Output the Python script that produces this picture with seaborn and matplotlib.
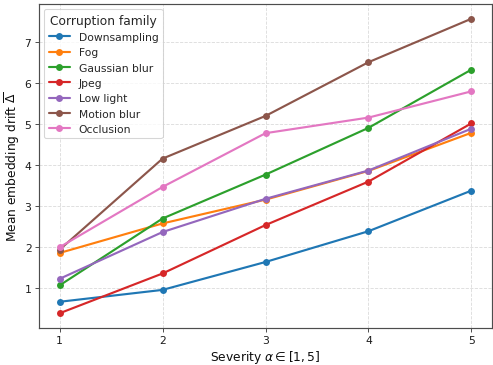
import pandas as pd
import matplotlib
matplotlib.use("Agg")
import matplotlib.pyplot as plt
import seaborn as sns

severity = [1, 2, 3, 4, 5]
families = ["Downsampling", "Fog", "Gaussian blur", "Jpeg", "Low light", "Motion blur", "Occlusion"]

downsampling = [0.66, 0.95, 1.63, 2.38, 3.37]
fog = [1.85, 2.57, 3.15, 3.85, 4.78]
gaussian_blur = [1.06, 2.69, 3.76, 4.90, 6.32]
jpeg = [0.38, 1.35, 2.53, 3.59, 5.01]
low_light = [1.22, 2.36, 3.17, 3.86, 4.88]
motion_blur = [1.93, 4.15, 5.19, 6.50, 7.56]
occlusion = [1.99, 3.46, 4.77, 5.15, 5.79]

series = [downsampling, fog, gaussian_blur, jpeg, low_light, motion_blur, occlusion]

rows = []
for fam, vals in zip(families, series):
    for s, v in zip(severity, vals):
        rows.append({"Severity": s, "Drift": v, "Corruption family": fam})
df = pd.DataFrame(rows)

sns.set_theme(
    style="whitegrid",
    rc={
        "axes.edgecolor": "0.3",
        "axes.linewidth": 1.1,
        "grid.color": "0.86",
        "grid.linestyle": "--",
        "grid.linewidth": 0.8,
        "xtick.bottom": True,
        "ytick.left": True,
        "xtick.color": "0.3",
        "ytick.color": "0.3",
        "xtick.labelcolor": "0.1",
        "ytick.labelcolor": "0.1",
    },
)
plt.rcParams["font.family"] = ["DejaVu Sans"]

W, H = 493, 366
fig, ax = plt.subplots(figsize=(W / 77, H / 77), dpi=77)
fig.subplots_adjust(left=39 / W, right=492 / W, top=1 - 5 / H, bottom=1 - 329 / H)

sns.lineplot(
    data=df, x="Severity", y="Drift", hue="Corruption family",
    palette=sns.color_palette("tab10", n_colors=len(families)),
    marker="o", markersize=6.5, markeredgewidth=0, linewidth=2.0, ax=ax,
)

ax.set_xticks(severity)
ax.set_yticks([1, 2, 3, 4, 5, 6, 7])
ax.tick_params(labelsize=10, length=3.5, width=0.9, pad=3.5)
ax.set_xlabel(r"Severity $\alpha \in [1, 5]$", fontsize=11.5, color="0.05", labelpad=2)
ax.set_ylabel(r"Mean embedding drift $\overline{\Delta}$", fontsize=11.5, color="0.05", labelpad=2)
ax.margins(x=0.05, y=0.05)
ax.set_xlim(0.8, 5.2)

leg = ax.legend(title="Corruption family", loc="upper left", fontsize=10,
                title_fontsize=11.5, frameon=True)
leg.get_frame().set_edgecolor("0.8")

plt.savefig("out.png", dpi=77)
